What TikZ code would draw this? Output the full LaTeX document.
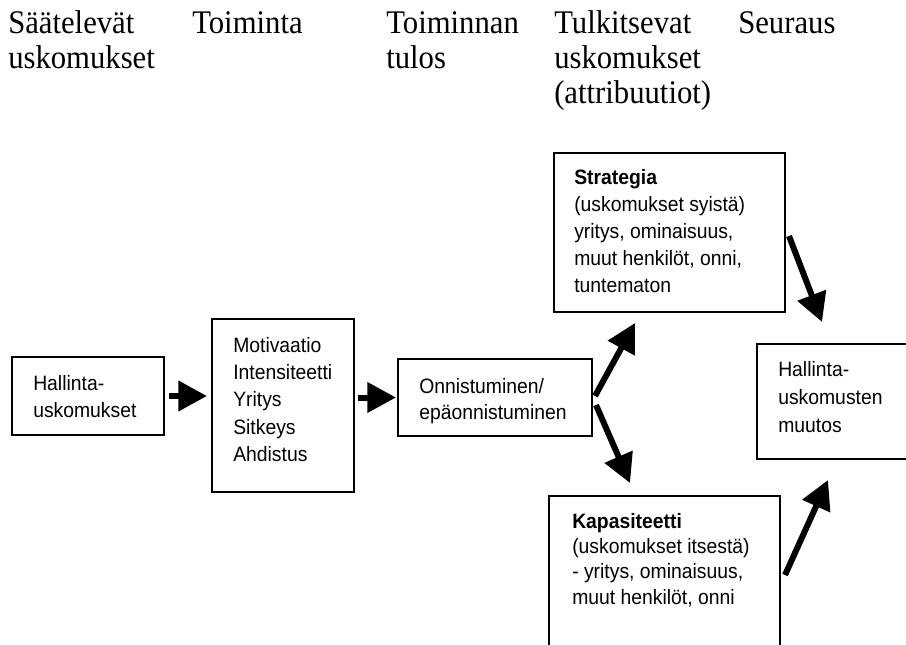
\documentclass[tikz,border=0pt]{standalone}
\usepackage{fontspec}
\setmainfont{Liberation Serif}[FakeStretch=0.93]
\newfontfamily\arialf{Liberation Sans}[FakeStretch=0.93]
\usetikzlibrary{arrows.meta,calc}
\newcommand\mylines[1]{\begin{tabular}[t]{@{}l@{}}#1\end{tabular}}
\begin{document}
\begin{tikzpicture}[x=0.75pt,y=-0.75pt,
  box/.style={draw=black,line width=1.5pt*0.75,inner sep=0pt,outer sep=0pt,fill=none},
  head/.style={anchor=base west,inner sep=0pt,font=\fontsize{24.75pt}{26.25pt}\selectfont},
  txt/.style={anchor=base west,inner sep=0pt,font=\arialf\fontsize{15.6pt}{20.6pt}\selectfont},
  arr/.style={line width=6*0.75pt,-{Triangle[length=21.5pt,width=22pt]}}]
\clip (0,0) rectangle (906,645);
\fill[white] (0,0) rectangle (906,645);
% headers
\node[head] (h1) at (8,34) {\mylines{Säätelevät\\uskomukset}};
\node[head] (h2) at (192,34) {\mylines{Toiminta}};
\node[head] (h3) at (386,34) {\mylines{Toiminnan\\tulos}};
\node[head] (h4) at (554,34) {\mylines{Tulkitsevat\\uskomukset\\(attribuutiot)}};
\node[head] (h5) at (738,34) {\mylines{Seuraus}};
% boxes
\node[box,minimum width=152*0.75pt,minimum height=78*0.75pt] (hal) at (88,396) {};
\node[box,minimum width=142*0.75pt,minimum height=173*0.75pt] (mot) at (283,405.5) {};
\node[box,minimum width=194*0.75pt,minimum height=77*0.75pt] (ons) at (495,397.5) {};
\node[box,minimum width=231*0.75pt,minimum height=159*0.75pt] (str) at (669.5,232.5) {};
\node[box,minimum width=158*0.75pt,minimum height=115*0.75pt] (hum) at (836,401.5) {};
\node[box,minimum width=231*0.75pt,minimum height=174*0.75pt] (kap) at (664.5,583) {};
% box texts
\node[txt] (thal) at (33,390) {\mylines{Hallinta-\\uskomukset}};
\node[txt] (tmot) at (233,352) {\mylines{Motivaatio\\Intensiteetti\\Yritys\\Sitkeys\\Ahdistus}};
\node[txt,font=\arialf\fontsize{15.6pt}{19.5pt}\selectfont] (tons) at (419,393) {\mylines{Onnistuminen/\\epäonnistuminen}};
\node[txt,font=\arialf\fontsize{15.6pt}{20.25pt}\selectfont] (tstr) at (574,185) {\mylines{\textbf{Strategia}\\(uskomukset syistä)\\yritys, ominaisuus,\\muut henkilöt, onni,\\tuntematon}};
\node[txt,font=\arialf\fontsize{15.6pt}{21pt}\selectfont] (thum) at (778,376) {\mylines{Hallinta-\\uskomusten\\muutos}};
\node[txt,font=\arialf\fontsize{15.6pt}{19.1pt}\selectfont] (tkap) at (572,528) {\mylines{\textbf{Kapasiteetti}\\(uskomukset itsestä)\\- yritys, ominaisuus,\\muut henkilöt, onni}};
% arrows
\draw[arr,shorten <=5*0.75pt,shorten >=5*0.75pt] (hal.east) -- (mot.west |- hal.east);
\draw[arr,shorten <=4*0.75pt,shorten >=2*0.75pt] (mot.east |- ons.west) -- (ons.west);
\draw[arr] ($(ons.east)+(3,-1.5)$) -- ($(str.south)+(-34.5,11)$);
\draw[arr] ($(ons.east)+(4,7.5)$) -- ($(kap.north)+(-34.5,-13)$);
\draw[arr] ($(str.east)+(4,3.5)$) -- ($(hum.north west)+(65,-22)$);
\draw[arr] ($(kap.north east)+(5,79)$) -- ($(hum.south west)+(71,21)$);
\end{tikzpicture}
\end{document}
